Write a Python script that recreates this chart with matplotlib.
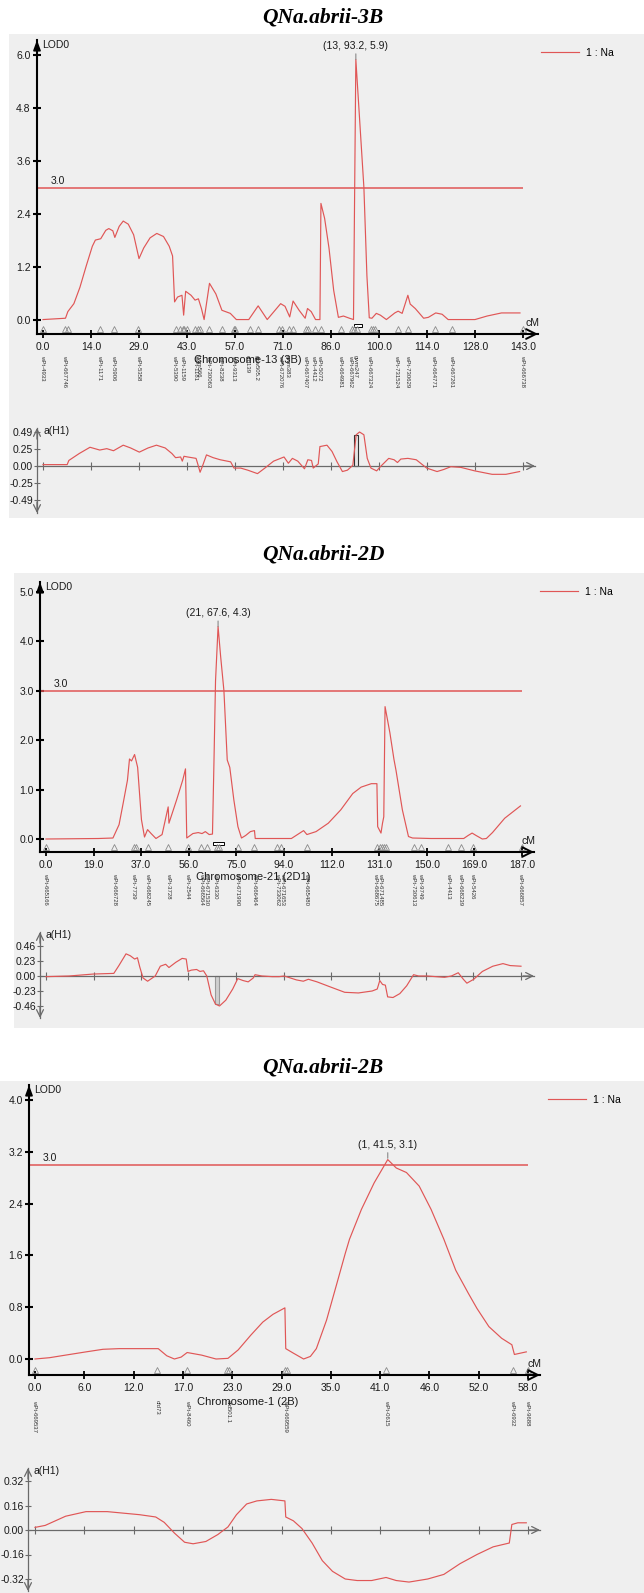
import numpy as np
import matplotlib
matplotlib.use('Agg')
import matplotlib.pyplot as plt
import matplotlib.transforms as mtrans
from matplotlib.patches import Rectangle

plt.rcParams['font.family'] = ['Liberation Sans', 'DejaVu Sans']

# ------------------------------------------------------------------ data
titles = ['QNa.abrii-3B', 'QNa.abrii-2D', 'QNa.abrii-2B']
chrom_names = ['Chromosome-13 (3B)', 'Chromosome-21 (2D1)', 'Chromosome-1 (2B)']
chrom_len = [143.0, 187.0, 58.0]
threshold = 3.0
trait_label = '1 : Na'

p1_xticklabels = ['0.0', '14.0', '29.0', '43.0', '57.0', '71.0', '86.0', '100.0', '114.0', '128.0', '143.0']
p2_xticklabels = ['0.0', '19.0', '37.0', '56.0', '75.0', '94.0', '112.0', '131.0', '150.0', '169.0', '187.0']
p3_xticklabels = ['0.0', '6.0', '12.0', '17.0', '23.0', '29.0', '35.0', '41.0', '46.0', '52.0', '58.0']

p1_lod_ticks = [0.0, 1.2, 2.4, 3.6, 4.8, 6.0]
p2_lod_ticks = [0.0, 1.0, 2.0, 3.0, 4.0, 5.0]
p3_lod_ticks = [0.0, 0.8, 1.6, 2.4, 3.2, 4.0]
p1_add_ticks = [-0.49, -0.25, 0.00, 0.25, 0.49]
p2_add_ticks = [-0.46, -0.23, 0.00, 0.23, 0.46]
p3_add_ticks = [-0.32, -0.16, 0.00, 0.16, 0.32]

p1_peak = (13, 93.2, 5.9)
p2_peak = (21, 67.6, 4.3)
p3_peak = (1, 41.5, 3.1)
p1_ci = (92.8, 95.0)
p2_ci = (65.8, 69.8)

# ---- panel 1 (3B) LOD profile
p1_cm = [0.0, 6.7, 7.4, 9.2, 11.0, 12.9, 14.7, 15.6, 17.2, 18.7,
         19.6, 20.8, 21.4, 22.7, 23.9, 25.4, 27.0, 28.6, 30.0, 31.9,
         33.9, 35.9, 37.6, 38.6, 39.2, 40.1, 41.4, 41.9, 42.5, 44.1,
         45.3, 46.3, 47.2, 48.0, 49.6, 51.5, 53.3, 55.8, 57.6, 61.3,
         64.1, 66.8, 70.8, 72.1, 73.5, 74.5, 76.3, 78.1, 78.8, 79.9,
         81.2, 82.5, 82.8, 83.9, 85.2, 86.6, 88.0, 89.5, 91.3, 92.5,
         93.2, 95.6, 96.5, 97.2, 98.0, 99.3, 100.5, 102.3, 104.8, 105.8,
         107.0, 108.7, 109.4, 110.9, 113.4, 114.8, 117.0, 118.9, 120.7, 128.7,
         132.3, 136.6, 142.1]
p1_lod = [0.01, 0.04, 0.19, 0.37, 0.74, 1.23, 1.67, 1.81, 1.84, 2.03,
          2.07, 2.02, 1.87, 2.12, 2.24, 2.17, 1.93, 1.39, 1.63, 1.86,
          1.96, 1.89, 1.67, 1.45, 0.41, 0.52, 0.56, 0.11, 0.65, 0.56,
          0.45, 0.48, 0.26, 0.01, 0.83, 0.59, 0.22, 0.15, 0.01, 0.01,
          0.32, 0.01, 0.37, 0.31, 0.07, 0.43, 0.22, 0.04, 0.26, 0.19,
          0.01, 0.01, 2.64, 2.30, 1.63, 0.67, 0.06, 0.09, 0.04, 0.01,
          5.90, 3.00, 1.00, 0.05, 0.04, 0.15, 0.11, 0.01, 0.16, 0.20,
          0.15, 0.56, 0.36, 0.26, 0.04, 0.06, 0.16, 0.13, 0.01, 0.01,
          0.09, 0.16, 0.16]
# ---- panel 1 additive effect
p1_add_cm = [0.0, 7.2, 7.7, 10.8, 14.0, 16.9, 19.0, 21.0, 23.9, 26.1,
             28.7, 31.3, 33.8, 36.4, 38.4, 39.5, 41.0, 41.5, 42.0, 43.1,
             45.6, 46.1, 46.8, 47.6, 48.7, 50.7, 52.8, 55.9, 56.9, 58.9,
             61.0, 63.9, 66.1, 68.7, 71.8, 73.1, 74.3, 75.9, 77.9, 78.9,
             80.0, 80.5, 82.0, 82.5, 84.6, 86.1, 87.6, 89.2, 90.7, 92.3,
             93.3, 94.3, 95.6, 96.6, 97.7, 99.4, 100.5, 103.0, 104.6, 105.6,
             106.6, 108.7, 111.2, 114.3, 117.4, 119.4, 121.5, 124.5, 128.6, 133.8,
             137.9, 142.0]
p1_add = [0.02, 0.02, 0.08, 0.18, 0.27, 0.23, 0.25, 0.22, 0.30, 0.26,
          0.20, 0.26, 0.30, 0.26, 0.18, 0.12, 0.13, 0.07, 0.14, 0.13,
          0.11, 0.03, -0.09, 0.01, 0.16, 0.12, 0.09, 0.06, -0.03, -0.03,
          -0.06, -0.11, -0.03, 0.07, 0.13, 0.04, 0.11, 0.07, -0.04, 0.09,
          0.08, -0.03, 0.03, 0.28, 0.30, 0.21, 0.06, -0.08, -0.06, 0.01,
          0.45, 0.49, 0.45, 0.11, -0.03, -0.07, -0.01, 0.11, 0.09, 0.05,
          0.10, 0.11, 0.09, -0.03, -0.08, -0.05, -0.01, -0.02, -0.07, -0.12,
          -0.12, -0.08]
p1_add_bar = (92.8, 93.8, 0.45)
p1_tri = [0.0, 6.5, 7.4, 16.9, 21.2, 28.4, 39.6, 40.7, 41.7, 42.1,
          42.9, 45.3, 46.3, 46.9, 49.6, 53.3, 57.0, 57.3, 61.6, 64.1,
          70.4, 71.1, 73.3, 74.4, 78.4, 79.0, 80.9, 82.7, 88.8, 92.2,
          92.7, 93.5, 97.8, 98.4, 98.9, 105.7, 108.8, 116.8, 121.9, 143.0]
p1_lab_cm = [0.0, 6.4, 16.9, 21.0, 28.5, 39.2, 41.5, 45.3, 46.4, 49.4,
             53.0, 56.9, 60.8, 63.6, 70.7, 72.8, 78.3, 80.5, 82.5, 88.7,
             91.7, 93.1, 97.4, 105.3, 108.7, 116.3, 121.7, 143.0]
p1_lab_names = ['wPt-4933', 'wPt-667746', 'wPt-1171', 'wPt-5906', 'wPt-5358', 'wPt-5390',
                'wPt-1159', 'wPt-1181', 'gwm566', 'wPt-730063', 'wPt-8238', 'wPt-9313',
                'cfd139', 'gpw505.2', 'wPt-672076', 'gwm383', 'wPt-667407', 'wPt-4412',
                'wPt-5072', 'wPt-664981', 'wPt-667962', 'gwm247', 'wPt-667324',
                'wPt-731524', 'wPt-730629', 'wPt-664771', 'wPt-667261', 'wPt-666738']

# ---- panel 2 (2D) LOD profile
p2_cm = [0.0, 20.6, 26.3, 28.7, 30.3, 32.0, 32.8, 33.6, 34.8, 36.0,
         37.5, 38.7, 39.9, 41.3, 43.2, 45.6, 48.0, 48.3, 51.3, 53.7,
         54.8, 55.3, 57.7, 59.8, 61.3, 62.6, 64.1, 65.4, 66.0, 66.6,
         67.6, 68.6, 69.9, 71.2, 72.2, 73.8, 75.4, 76.8, 78.4, 80.3,
         81.9, 82.2, 96.4, 98.8, 101.2, 102.5, 106.1, 110.9, 115.8, 120.5,
         123.8, 127.8, 130.0, 130.3, 131.6, 132.2, 132.7, 133.2, 135.1, 136.7,
         137.5, 140.0, 142.4, 144.0, 151.2, 164.1, 165.8, 167.4, 169.0, 171.4,
         173.0, 175.4, 180.2, 186.4]
p2_lod = [0.0, 0.01, 0.02, 0.29, 0.72, 1.19, 1.62, 1.58, 1.71, 1.45,
          0.39, 0.04, 0.19, 0.11, 0.01, 0.09, 0.65, 0.32, 0.79, 1.19,
          1.42, 0.02, 0.11, 0.13, 0.11, 0.15, 0.09, 0.10, 1.60, 3.20,
          4.30, 3.70, 3.00, 1.60, 1.45, 0.79, 0.25, 0.02, 0.07, 0.15,
          0.17, 0.01, 0.01, 0.09, 0.17, 0.09, 0.15, 0.32, 0.59, 0.92,
          1.05, 1.12, 1.12, 0.25, 0.12, 0.32, 0.45, 2.68, 2.15, 1.61,
          1.39, 0.59, 0.05, 0.02, 0.01, 0.01, 0.07, 0.12, 0.07, 0.0,
          0.01, 0.13, 0.42, 0.67]
# ---- panel 2 additive effect
p2_add_cm = [0.0, 9.1, 18.6, 26.7, 28.7, 31.5, 33.2, 34.9, 36.0, 36.9,
             38.2, 40.0, 43.0, 45.0, 47.1, 48.4, 51.1, 53.6, 55.2, 55.9,
             57.2, 59.3, 60.6, 62.0, 63.3, 65.0, 66.7, 68.3, 70.8, 73.5,
             75.5, 77.6, 79.6, 81.6, 82.3, 85.0, 89.1, 91.8, 93.8, 98.6,
             101.3, 103.3, 106.7, 112.1, 117.6, 123.0, 128.4, 130.4, 131.4, 132.5,
             133.6, 134.5, 136.6, 139.3, 142.0, 144.7, 146.7, 150.1, 156.9, 159.6,
             162.3, 164.3, 165.7, 168.4, 171.8, 175.9, 179.9, 182.7, 187.0]
p2_add = [-0.01, 0.0, 0.03, 0.04, 0.16, 0.34, 0.31, 0.26, 0.28, 0.14,
          -0.03, -0.08, 0.0, 0.15, 0.18, 0.13, 0.21, 0.27, 0.26, 0.07,
          0.09, 0.10, 0.07, 0.08, 0.0, -0.29, -0.43, -0.46, -0.37, -0.20,
          -0.04, -0.07, -0.09, -0.03, 0.02, 0.0, -0.01, -0.01, 0.0, -0.06,
          -0.08, -0.05, -0.09, -0.17, -0.25, -0.26, -0.23, -0.20, -0.07, -0.13,
          -0.14, -0.32, -0.33, -0.27, -0.15, 0.02, 0.0, 0.0, -0.02, 0.0,
          0.05, -0.05, -0.11, -0.05, 0.07, 0.15, 0.19, 0.16, 0.15]
p2_add_bar = (66.7, 68.3, -0.43)
p2_tri = [0.0, 26.8, 34.4, 35.2, 39.9, 48.0, 55.6, 61.0, 63.4, 67.0,
          67.9, 75.4, 81.9, 90.8, 92.3, 102.5, 130.0, 131.1, 131.9, 132.7,
          133.5, 144.4, 147.2, 158.0, 162.9, 167.7, 187.0]
p2_lab_cm = [0.0, 26.8, 34.3, 40.0, 48.0, 55.6, 60.9, 63.0, 66.6, 75.4,
             81.9, 90.8, 92.9, 102.5, 129.4, 131.4, 144.4, 147.2, 158.0, 162.8,
             167.6, 186.3]
p2_lab_names = ['wPt-665166', 'wPt-666728', 'wPt-7739', 'wPt-668245', 'wPt-3728',
                'wPt-2544', 'wPt-666564', 'wPt-671530', 'wPt-6330', 'wPt-671990',
                'wPt-666464', 'wPt-733062', 'wPt-671653', 'wPt-665480', 'wPt-668675',
                'wPt-671485', 'wPt-730613', 'wPt-9749', 'wPt-4413', 'wPt-668239',
                'wPt-5426', 'wPt-666857']

# ---- panel 3 (2B) LOD profile
p3_cm = [0.0, 1.7, 3.6, 6.0, 8.0, 9.9, 12.0, 14.5, 15.5, 16.4,
         17.2, 17.9, 19.6, 21.3, 22.7, 23.9, 25.4, 26.8, 28.0, 29.4,
         29.5, 30.4, 31.6, 32.4, 33.1, 34.3, 35.5, 36.5, 37.0, 38.4,
         39.9, 41.5, 42.5, 43.7, 45.2, 46.6, 48.1, 49.5, 51.0, 52.0,
         53.4, 54.9, 56.1, 56.4, 57.8]
p3_lod = [0.0, 0.02, 0.06, 0.11, 0.15, 0.16, 0.16, 0.16, 0.05, 0.0,
          0.03, 0.10, 0.06, 0.0, 0.01, 0.14, 0.37, 0.57, 0.69, 0.79,
          0.16, 0.09, 0.0, 0.04, 0.16, 0.60, 1.16, 1.63, 1.85, 2.31,
          2.72, 3.08, 2.95, 2.88, 2.67, 2.31, 1.85, 1.37, 1.01, 0.78,
          0.50, 0.32, 0.22, 0.07, 0.11]
# ---- panel 3 additive effect
p3_add_cm = [0.0, 1.2, 3.6, 6.0, 8.5, 10.4, 12.3, 14.2, 15.2, 16.4,
             17.6, 18.6, 20.1, 21.5, 22.7, 23.7, 24.9, 26.1, 27.8, 29.4,
             29.5, 30.4, 31.4, 32.6, 33.8, 35.0, 36.5, 37.9, 39.6, 41.3,
             42.5, 44.0, 46.2, 48.1, 50.0, 52.0, 53.9, 55.8, 56.1, 56.8,
             57.8]
p3_add = [0.017, 0.03, 0.09, 0.12, 0.12, 0.11, 0.10, 0.085, 0.05, -0.02,
          -0.08, -0.09, -0.075, -0.03, 0.02, 0.10, 0.17, 0.19, 0.20, 0.19,
          0.085, 0.06, 0.01, -0.085, -0.20, -0.27, -0.32, -0.33, -0.33, -0.31,
          -0.33, -0.34, -0.32, -0.29, -0.22, -0.16, -0.11, -0.085, 0.036, 0.047,
          0.047]
p3_tri = [0.0, 14.4, 17.9, 22.6, 22.8, 29.4, 29.6, 41.3, 56.2, 58.0]
p3_lab_cm = [0.0, 14.4, 17.9, 22.7, 29.5, 41.3, 56.2, 58.0]
p3_lab_names = ['wPt-669537', 'cfd73', 'wPt-8460', 'cfd501.1', 'wPt-669559',
                'wPt-0615', 'wPt-6932', 'wPt-9688']

# ------------------------------------------------------------------ figure
W, H = 644, 1593
fig = plt.figure(figsize=(W / 100, H / 100), dpi=100)
fig.patch.set_facecolor('white')

RED = '#e05656'
BG = '#efefef'
AXG = '#6a6a6a'
TXT = '#1a1a1a'
FS = 7.5


def rect_px(x0, y0, x1, y1):
    return [x0 / W, 1 - y1 / H, (x1 - x0) / W, (y1 - y0) / H]


def background(x0, y0, x1, y1):
    fig.add_artist(Rectangle((x0 / W, 1 - y1 / H), (x1 - x0) / W, (y1 - y0) / H,
                             transform=fig.transFigure, facecolor=BG,
                             edgecolor='none', zorder=-5))


def lod_panel(g, cm, lod, L, yticks, xlabels, tri, lab_cm, lab_names, peak, ci):
    ax = fig.add_axes(rect_px(g['yax'], g['ytop'], g['xend'], g['xax']))
    ax.patch.set_visible(False)
    kx = (g['x1'] - g['x0']) / L
    ax.set_xlim((g['yax'] - g['x0']) / kx, (g['xend'] - g['x0']) / kx)
    ky = (g['y0'] - g['ytick']) / yticks[-1]
    ax.set_ylim((g['y0'] - g['xax']) / ky, (g['y0'] - g['ytop']) / ky)
    for s in ('top', 'right'):
        ax.spines[s].set_visible(False)
    for s in ('left', 'bottom'):
        ax.spines[s].set_linewidth(1.5)
        ax.spines[s].set_color('black')
    ax.set_xticks(np.linspace(0, L, len(xlabels)))
    ax.set_xticklabels(xlabels)
    ax.set_yticks(yticks)
    ax.set_yticklabels([f'{v:.1f}' for v in yticks])
    ax.tick_params(axis='x', direction='inout', length=6, width=1.3, pad=3,
                   labelsize=FS, labelcolor=TXT)
    ax.tick_params(axis='y', direction='inout', length=6, width=1.5, pad=1.5,
                   labelsize=FS, labelcolor=TXT)

    line, = ax.plot(cm, lod, color=RED, lw=0.85, label=trait_label)
    ax.hlines(threshold, ax.get_xlim()[0], L, color=RED, lw=1.1)
    tt = mtrans.offset_copy(ax.get_yaxis_transform(), fig=fig, x=14, y=2, units='dots')
    ax.text(0, threshold, f'{threshold:.1f}', transform=tt, ha='left', va='bottom',
            fontsize=FS, color=TXT)

    # axis arrows
    ax.annotate('', xy=(1, 0), xycoords='axes fraction', xytext=(-12, 0),
                textcoords='offset points', annotation_clip=False,
                arrowprops=dict(arrowstyle='->,head_length=0.7,head_width=0.35',
                                color='black', lw=1.4, shrinkA=0, shrinkB=0))
    ax.annotate('', xy=(0, 1), xycoords='axes fraction', xytext=(0, -10),
                textcoords='offset points', annotation_clip=False,
                arrowprops=dict(arrowstyle='-|>,head_length=0.6,head_width=0.22',
                                color='black', lw=1.2, shrinkA=0, shrinkB=0))
    lt = mtrans.offset_copy(ax.transAxes, fig=fig, x=5, y=-5, units='dots')
    ax.text(0, 1, 'LOD0', transform=lt, ha='left', va='center', fontsize=FS, color=TXT)
    ct = mtrans.offset_copy(ax.transAxes, fig=fig, x=-13, y=11, units='dots')
    ax.text(1, 0, 'cM', transform=ct, ha='left', va='center', fontsize=FS, color=TXT)

    # marker triangles and names
    ttr = mtrans.offset_copy(ax.get_xaxis_transform(), fig=fig, x=0, y=5, units='dots')
    ax.plot(tri, np.zeros(len(tri)), transform=ttr, ls='none', marker='^', ms=4,
            mfc='none', mec='#8a8a8a', mew=0.6, clip_on=False)
    ltr = mtrans.offset_copy(ax.get_xaxis_transform(), fig=fig, x=0, y=-g['laboff'],
                             units='dots')
    for c, n in zip(lab_cm, lab_names):
        ax.text(c, 0, n, transform=ltr, rotation=-90, ha='center', va='top',
                fontsize=4.3, color='#333333')

    # peak annotation
    ax.annotate(f'({peak[0]}, {peak[1]}, {peak[2]})', xy=(peak[1], peak[2]),
                xytext=(0, 6), textcoords='offset points', ha='center', va='bottom',
                fontsize=FS, color=TXT,
                arrowprops=dict(arrowstyle='-', color='#888888', lw=0.8,
                                shrinkA=0, shrinkB=0))
    if ci is not None:
        h_ax = g['xax'] - g['ytop']
        ax.add_patch(Rectangle((ci[0], 7 / h_ax), ci[1] - ci[0], 3 / h_ax,
                               transform=ax.get_xaxis_transform(), facecolor='white',
                               edgecolor='black', lw=0.7, clip_on=False))

    ax.legend(handles=[line], loc='center left',
              bbox_to_anchor=(g['leg'][0] / W, 1 - g['leg'][1] / H),
              bbox_transform=fig.transFigure, frameon=False, fontsize=FS,
              handlelength=3.6, handletextpad=0.7, borderpad=0, borderaxespad=0)
    return ax


def add_panel(g, cm, a, L, aticks, bar, bar_fc, bar_ec):
    ax = fig.add_axes(rect_px(g['yax'], g['top'], g['xend'], g['bottom']))
    ax.patch.set_visible(False)
    kx = (g['x1'] - g['x0']) / L
    ax.set_xlim((g['yax'] - g['x0']) / kx, (g['xend'] - g['x0']) / kx)
    ky = (g['zero'] - g['tick']) / aticks[-1]
    ax.set_ylim((g['zero'] - g['bottom']) / ky, (g['zero'] - g['top']) / ky)
    for s in ('top', 'right'):
        ax.spines[s].set_visible(False)
    ax.spines['bottom'].set_position(('data', 0))
    for s in ('left', 'bottom'):
        ax.spines[s].set_color(AXG)
        ax.spines[s].set_linewidth(0.9)
    ax.set_xticks(np.linspace(0, L, 11))
    ax.set_xticklabels([])
    ax.tick_params(axis='x', direction='inout', length=6, width=0.8, color=AXG)
    ax.set_yticks(aticks)
    ax.set_yticklabels([f'{v:.2f}' for v in aticks])
    ax.tick_params(axis='y', direction='inout', length=4, width=0.8, color=AXG,
                   pad=1, labelsize=FS, labelcolor=TXT)

    if bar is not None:
        ax.add_patch(Rectangle((bar[0], 0), bar[1] - bar[0], bar[2],
                               facecolor=bar_fc, edgecolor=bar_ec, lw=0.8, zorder=2))
    ax.plot(cm, a, color=RED, lw=0.85, zorder=3)

    ap = dict(arrowstyle='->,head_length=0.5,head_width=0.25', color=AXG, lw=0.9,
              shrinkA=0, shrinkB=0)
    ax.annotate('', xy=(0, 1), xycoords='axes fraction', xytext=(0, -8),
                textcoords='offset points', arrowprops=ap, annotation_clip=False)
    ax.annotate('', xy=(0, 0), xycoords='axes fraction', xytext=(0, 8),
                textcoords='offset points', arrowprops=ap, annotation_clip=False)
    ax.annotate('', xy=(1, 0), xycoords=ax.get_yaxis_transform(), xytext=(-8, 0),
                textcoords='offset points', arrowprops=ap, annotation_clip=False)
    lt = mtrans.offset_copy(ax.transAxes, fig=fig, x=6, y=-3, units='dots')
    ax.text(0, 1, 'a(H1)', transform=lt, ha='left', va='center', fontsize=FS, color=TXT)
    return ax


TITLE_X = 323

# ---------------------------------------------------------------- panel 1
background(9, 34, W, 518)
fig.text(TITLE_X / W, 1 - 18 / H, titles[0], ha='center', va='center', fontsize=15.5,
         fontweight='bold', fontstyle='italic', family='Liberation Serif')
g1 = dict(yax=37, x0=43, x1=523, xend=538, ytop=40, xax=334, y0=320, ytick=55,
          laboff=21, leg=(541, 53))
lod_panel(g1, p1_cm, p1_lod, chrom_len[0], p1_lod_ticks, p1_xticklabels, p1_tri,
          p1_lab_cm, p1_lab_names, p1_peak, p1_ci)
fig.text(248 / W, 1 - 360 / H, chrom_names[0], ha='center', va='center', fontsize=8,
         color=TXT)
a1 = dict(yax=37, x0=43, x1=523, xend=535, top=428, bottom=513, zero=466, tick=432)
add_panel(a1, p1_add_cm, p1_add, chrom_len[0], p1_add_ticks, p1_add_bar,
          '#e6e6e6', '#333333')

# ---------------------------------------------------------------- panel 2
background(14, 573, W, 1028)
fig.text(TITLE_X / W, 1 - 554 / H, titles[1], ha='center', va='center', fontsize=15.5,
         fontweight='bold', fontstyle='italic', family='Liberation Serif')
g2 = dict(yax=40, x0=46, x1=522, xend=534, ytop=582, xax=852, y0=839, ytick=592,
          laboff=21, leg=(540, 592))
lod_panel(g2, p2_cm, p2_lod, chrom_len[1], p2_lod_ticks, p2_xticklabels, p2_tri,
          p2_lab_cm, p2_lab_names, p2_peak, p2_ci)
fig.text(253 / W, 1 - 877 / H, chrom_names[1], ha='center', va='center', fontsize=8,
         color=TXT)
a2 = dict(yax=40, x0=46, x1=521, xend=534, top=932, bottom=1018, zero=976, tick=946)
add_panel(a2, p2_add_cm, p2_add, chrom_len[1], p2_add_ticks, p2_add_bar,
          '#cfcfcf', '#9a9a9a')

# ---------------------------------------------------------------- panel 3
background(0, 1081, W, H)
fig.text(TITLE_X / W, 1 - 1068 / H, titles[2], ha='center', va='center', fontsize=15.5,
         fontweight='bold', fontstyle='italic', family='Liberation Serif')
g3 = dict(yax=29, x0=35, x1=528, xend=540, ytop=1085, xax=1375, y0=1359, ytick=1100,
          laboff=25, leg=(548, 1100))
lod_panel(g3, p3_cm, p3_lod, chrom_len[2], p3_lod_ticks, p3_xticklabels, p3_tri,
          p3_lab_cm, p3_lab_names, p3_peak, None)
fig.text(248 / W, 1 - 1402 / H, chrom_names[2], ha='center', va='center', fontsize=8,
         color=TXT)
a3 = dict(yax=28, x0=35, x1=528, xend=540, top=1468, bottom=1591, zero=1530, tick=1481)
add_panel(a3, p3_add_cm, p3_add, chrom_len[2], p3_add_ticks, None, None, None)

fig.savefig('out.png', dpi=100, facecolor='white')
